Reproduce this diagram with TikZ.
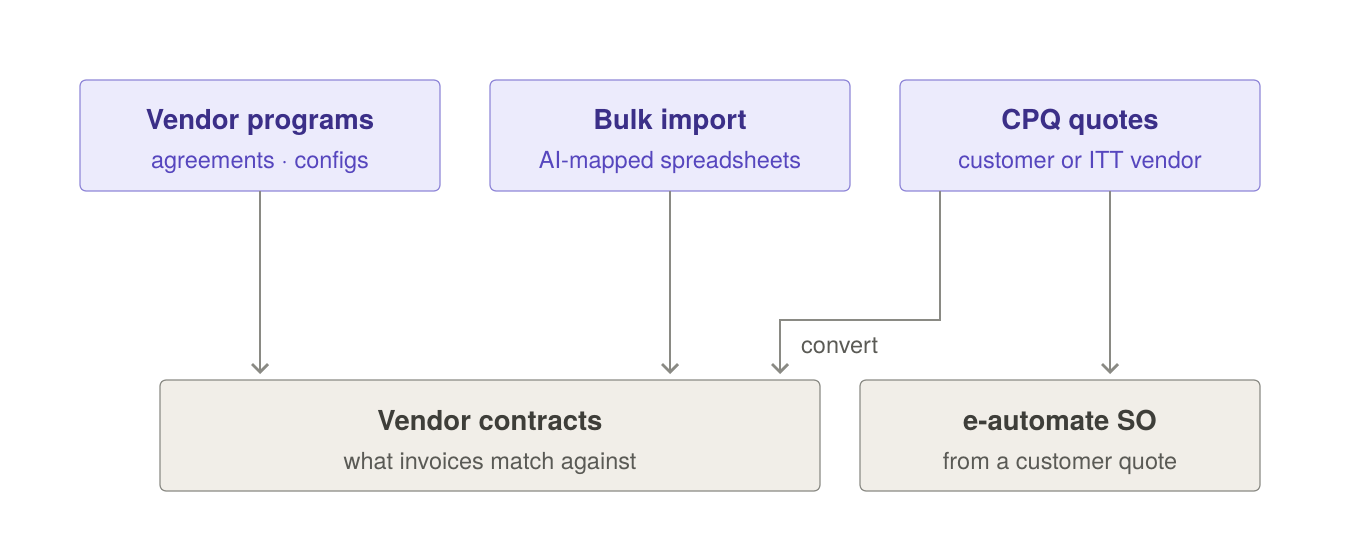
\documentclass[tikz,border=0pt]{standalone}
\usepackage{fontspec}
\setmainfont{TeX Gyre Heros}
\usetikzlibrary{arrows.meta}
\definecolor{topfill}{HTML}{ECEBFC}
\definecolor{topdraw}{HTML}{9188D8}
\definecolor{toptitle}{HTML}{3B2F88}
\definecolor{topsub}{HTML}{5646BE}
\definecolor{botfill}{HTML}{F1EEE8}
\definecolor{botdraw}{HTML}{8C8C86}
\definecolor{bottitle}{HTML}{3E3E39}
\definecolor{botsub}{HTML}{5A5A55}
\definecolor{conn}{HTML}{8A8A84}
\tikzset{
  topbox/.style={draw=topdraw, fill=topfill, line width=1.2pt, rounded corners=6pt},
  botbox/.style={draw=botdraw, fill=botfill, line width=1.2pt, rounded corners=6pt},
  ttl/.style={font=\fontsize{27.5}{30}\selectfont\bfseries},
  sub/.style={font=\fontsize{23.5}{26}\selectfont},
  conn/.style={draw=conn, line width=2.8pt, -{Straight Barb[length=8pt,width=16pt,line width=2.8pt]}},
  lbl/.style={font=\fontsize{23.5}{26}\selectfont, text=botsub}
}
\begin{document}
\begin{tikzpicture}[x=1pt,y=-1pt]
\useasboundingbox (0,0) rectangle (1360,540);
% top boxes
\draw[topbox] (80,80) rectangle (440,191);
\node (vp) [inner sep=0, minimum width=360pt, minimum height=111pt] at (260,135.5) {};
\node[ttl, text=toptitle, anchor=base] (vpt) at (260,130) {Vendor programs};
\node[sub, text=topsub, anchor=base] (vps) at (260,169) {agreements · configs};

\draw[topbox] (490,80) rectangle (850,191);
\node (bi) [inner sep=0, minimum width=360pt, minimum height=111pt] at (670,135.5) {};
\node[ttl, text=toptitle, anchor=base] (bit) at (670,130) {Bulk import};
\node[sub, text=topsub, anchor=base] (bis) at (670,169) {AI-mapped spreadsheets};

\draw[topbox] (900,80) rectangle (1260,191);
\node (cpq) [inner sep=0, minimum width=360pt, minimum height=111pt] at (1080,135.5) {};
\node[ttl, text=toptitle, anchor=base] (cpqt) at (1080,130) {CPQ quotes};
\node[sub, text=topsub, anchor=base] (cpqs) at (1080,169) {customer or ITT vendor};

% bottom boxes
\draw[botbox] (160,380) rectangle (820,491);
\node (vc) [inner sep=0, minimum width=660pt, minimum height=111pt] at (490,435.5) {};
\node[ttl, text=bottitle, anchor=base] (vct) at (490,430) {Vendor contracts};
\node[sub, text=botsub, anchor=base] (vcs) at (490,469) {what invoices match against};

\draw[botbox] (860,380) rectangle (1260,491);
\node (so) [inner sep=0, minimum width=400pt, minimum height=111pt] at (1060,435.5) {};
\node[ttl, text=bottitle, anchor=base] (sot) at (1060,430) {e-automate SO};
\node[sub, text=botsub, anchor=base] (sos) at (1060,469) {from a customer quote};

% connectors
\draw[conn] (vp.south -| 260,0) -- (260,374);
\draw[conn] (bi.south -| 670,0) -- (670,374);
\draw[conn] (cpq.south -| 940,0) -- (940,320) -- (780,320) -- (780,374);
\draw[conn] (cpq.south -| 1110,0) -- (1110,374);
\node[lbl, anchor=base west, inner sep=0] (cv) at (801,353) {convert};
\end{tikzpicture}
\end{document}
